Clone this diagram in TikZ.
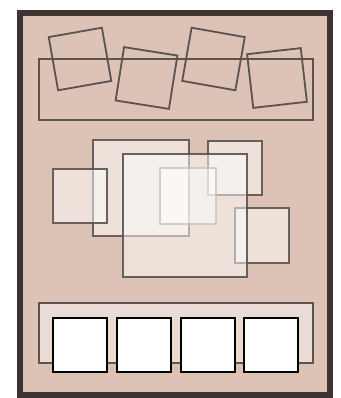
\documentclass[tikz,border=0pt]{standalone}
\usepackage{xcolor}
\usepackage{tikz}
\usetikzlibrary{positioning}
\definecolor{framedark}{HTML}{3B3431}
\definecolor{boardtan}{HTML}{DCC3B6}
\definecolor{traypale}{HTML}{EADCD4}
\definecolor{linegray}{HTML}{5B5350}
\tikzset{
  board/.style={rectangle, draw=framedark, fill=boardtan, line width=6pt,
                minimum width=310pt, minimum height=382pt, inner sep=0pt},
  band/.style={rectangle, draw=linegray, line width=1.2pt, inner sep=0pt,
               minimum width=274pt, minimum height=61pt},
  tile/.style={rectangle, draw=linegray, line width=1.8pt,
               minimum size=54pt, inner sep=0pt},
  card/.style={rectangle, draw=linegray, line width=1.6pt, fill=white,
               fill opacity=0.5, draw opacity=0.9, inner sep=0pt},
  ghostcard/.style={card, draw=linegray!35, draw opacity=0.8},
  slot/.style={rectangle, draw=black, line width=2pt, fill=white,
               minimum size=54pt, inner sep=0pt},
}
\begin{document}
\begin{tikzpicture}[x=1pt, y=-1pt, node distance=7.8pt]
  \useasboundingbox (0,0) rectangle (340,398);
  \node[board] (frame) at (175,204) {};

  % top row
  \node[band] (topband) at (176,89.5) {};
  \node[tile, rotate=10]  (tileA) at (80,59) {};
  \node[tile, rotate=-9]  (tileB) at (146.5,78) {};
  \node[tile, rotate=-10] (tileC) at (213.5,59) {};
  \node[tile, rotate=6.5] (tileD) at (277,78) {};

  % middle pile
  \node[card, minimum width=96pt, minimum height=96pt] (back) at (141,188) {};
  \node[card, minimum width=54pt, minimum height=54pt] (corner) at (235,168) {};
  \node[card, minimum width=54pt, minimum height=55pt] (lower) at (262,235.5) {};
  \node[card, minimum width=54pt, minimum height=54pt] (side) at (80,196) {};
  \node[card, minimum width=124pt, minimum height=123pt] (main) at (185,215.5) {};
  \node[ghostcard, minimum width=56pt, minimum height=56pt] (inner) at (188,196) {};

  % bottom tray
  \node[band, fill=traypale, minimum height=60pt] (tray) at (176,333) {};
  \node[slot] (slot1) at (80,344.5) {};
  \node[slot, right=of slot1] (slot2) {};
  \node[slot, right=of slot2] (slot3) {};
  \node[slot, right=of slot3] (slot4) {};
\end{tikzpicture}
\end{document}
